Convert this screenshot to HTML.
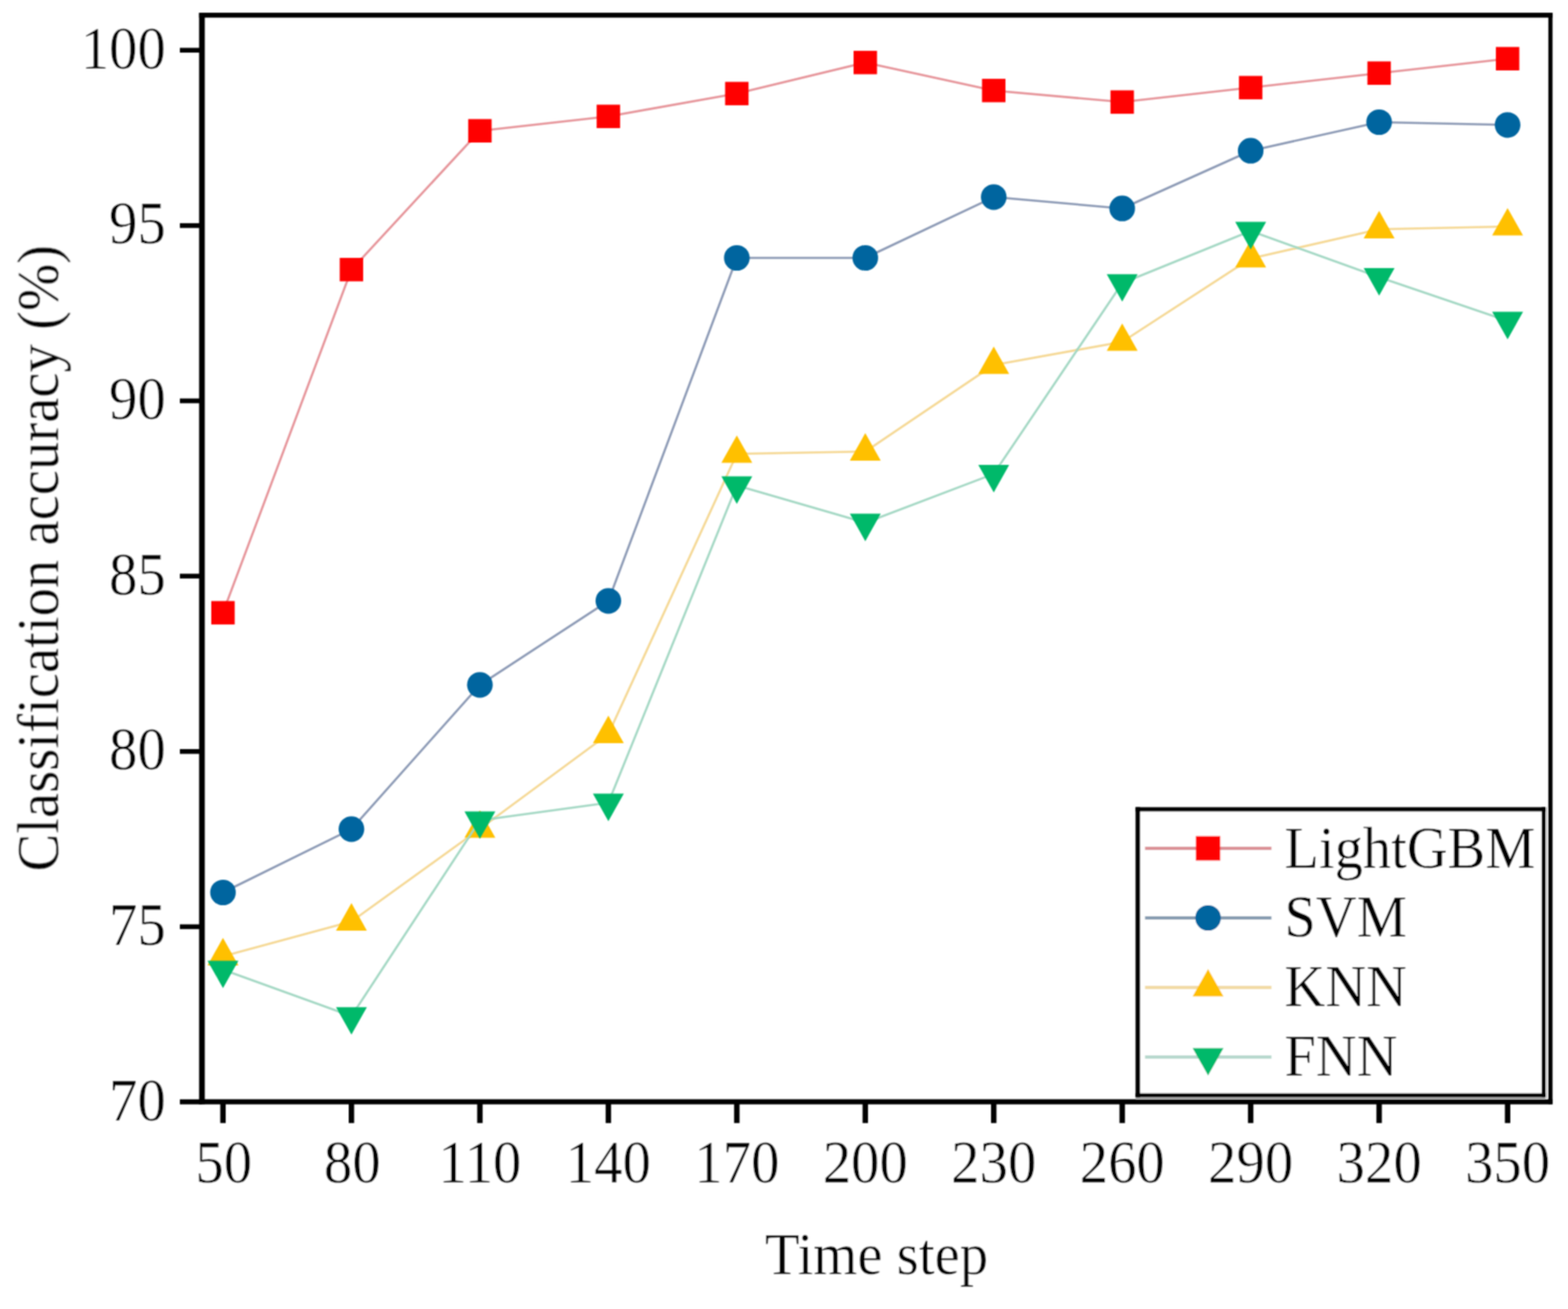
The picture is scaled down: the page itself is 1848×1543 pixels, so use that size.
<!DOCTYPE html>
<html lang="en"><head><meta charset="utf-8"><title>Classification accuracy</title>
<style>
html,body{margin:0;padding:0;background:#fff;}
body{width:1848px;height:1543px;overflow:hidden;}
svg{display:block;}
text{font-family:"Liberation Serif","DejaVu Serif",serif;fill:#000;stroke:#fff;stroke-width:0.45px;stroke-linejoin:round;}
</style></head><body>
<svg width="1848" height="1543" viewBox="0 0 1848 1543">
<defs><filter id="tsoft" x="-2%" y="-2%" width="104%" height="104%"><feConvolveMatrix order="3" kernelMatrix="1 2 1 2 4 2 1 2 1" divisor="16" edgeMode="none" preserveAlpha="false"/></filter></defs>
<rect width="1848" height="1543" fill="#fff"/>
<g id="series">
<polyline points="262.8,722.3 414.2,317.8 565.6,154.2 717.0,137.2 868.4,110.3 1019.8,73.7 1171.2,106.7 1322.6,120.3 1474.0,103.3 1625.4,86.2 1776.8,69.2" fill="none" stroke="#e6949a" stroke-width="2.6" stroke-linejoin="round" filter="url(#tsoft)"/>
<g filter="url(#tsoft)">
<rect x="249.0" y="708.5" width="27.6" height="27.6" fill="#ff0000"/>
<rect x="400.4" y="304.0" width="27.6" height="27.6" fill="#ff0000"/>
<rect x="551.8" y="140.4" width="27.6" height="27.6" fill="#ff0000"/>
<rect x="703.2" y="123.4" width="27.6" height="27.6" fill="#ff0000"/>
<rect x="854.6" y="96.5" width="27.6" height="27.6" fill="#ff0000"/>
<rect x="1006.0" y="59.9" width="27.6" height="27.6" fill="#ff0000"/>
<rect x="1157.4" y="92.9" width="27.6" height="27.6" fill="#ff0000"/>
<rect x="1308.8" y="106.5" width="27.6" height="27.6" fill="#ff0000"/>
<rect x="1460.2" y="89.5" width="27.6" height="27.6" fill="#ff0000"/>
<rect x="1611.6" y="72.4" width="27.6" height="27.6" fill="#ff0000"/>
<rect x="1763.0" y="55.4" width="27.6" height="27.6" fill="#ff0000"/>
</g>
<polyline points="262.8,1052.0 414.2,977.3 565.6,807.3 717.0,708.3 868.4,304.0 1019.8,304.0 1171.2,232.3 1322.6,245.7 1474.0,177.7 1625.4,144.0 1776.8,147.3" fill="none" stroke="#8c9ab5" stroke-width="2.6" stroke-linejoin="round" filter="url(#tsoft)"/>
<g filter="url(#tsoft)">
<circle cx="262.8" cy="1052.0" r="15.1" fill="#06659f"/>
<circle cx="414.2" cy="977.3" r="15.1" fill="#06659f"/>
<circle cx="565.6" cy="807.3" r="15.1" fill="#06659f"/>
<circle cx="717.0" cy="708.3" r="15.1" fill="#06659f"/>
<circle cx="868.4" cy="304.0" r="15.1" fill="#06659f"/>
<circle cx="1019.8" cy="304.0" r="15.1" fill="#06659f"/>
<circle cx="1171.2" cy="232.3" r="15.1" fill="#06659f"/>
<circle cx="1322.6" cy="245.7" r="15.1" fill="#06659f"/>
<circle cx="1474.0" cy="177.7" r="15.1" fill="#06659f"/>
<circle cx="1625.4" cy="144.0" r="15.1" fill="#06659f"/>
<circle cx="1776.8" cy="147.3" r="15.1" fill="#06659f"/>
</g>
<polyline points="262.8,1127.3 414.2,1086.3 565.6,977.0 717.0,865.3 868.4,535.0 1019.8,532.3 1171.2,430.2 1322.6,403.0 1474.0,304.7 1625.4,270.3 1776.8,267.0" fill="none" stroke="#f5d894" stroke-width="2.6" stroke-linejoin="round" filter="url(#tsoft)"/>
<g filter="url(#tsoft)">
<path d="M262.8 1105.5L281.0 1137.9L244.6 1137.9Z" fill="#ffc000"/>
<path d="M414.2 1064.5L432.4 1096.9L396.0 1096.9Z" fill="#ffc000"/>
<path d="M565.6 955.2L583.8 987.6L547.4 987.6Z" fill="#ffc000"/>
<path d="M717.0 843.5L735.2 875.9L698.8 875.9Z" fill="#ffc000"/>
<path d="M868.4 513.2L886.6 545.6L850.2 545.6Z" fill="#ffc000"/>
<path d="M1019.8 510.5L1038.0 542.9L1001.6 542.9Z" fill="#ffc000"/>
<path d="M1171.2 408.4L1189.4 440.8L1153.0 440.8Z" fill="#ffc000"/>
<path d="M1322.6 381.2L1340.8 413.6L1304.4 413.6Z" fill="#ffc000"/>
<path d="M1474.0 282.9L1492.2 315.3L1455.8 315.3Z" fill="#ffc000"/>
<path d="M1625.4 248.5L1643.6 280.9L1607.2 280.9Z" fill="#ffc000"/>
<path d="M1776.8 245.2L1795.0 277.6L1758.6 277.6Z" fill="#ffc000"/>
</g>
<polyline points="262.8,1143.0 414.2,1197.8 565.6,967.0 717.0,946.2 868.4,572.2 1019.8,616.2 1171.2,558.6 1322.6,333.8 1474.0,272.2 1625.4,326.7 1776.8,378.2" fill="none" stroke="#a4d8c4" stroke-width="2.6" stroke-linejoin="round" filter="url(#tsoft)"/>
<g filter="url(#tsoft)">
<path d="M262.8 1164.8L281.0 1132.4L244.6 1132.4Z" fill="#00b96b"/>
<path d="M414.2 1219.6L432.4 1187.2L396.0 1187.2Z" fill="#00b96b"/>
<path d="M565.6 988.8L583.8 956.4L547.4 956.4Z" fill="#00b96b"/>
<path d="M717.0 968.0L735.2 935.6L698.8 935.6Z" fill="#00b96b"/>
<path d="M868.4 594.0L886.6 561.6L850.2 561.6Z" fill="#00b96b"/>
<path d="M1019.8 638.0L1038.0 605.6L1001.6 605.6Z" fill="#00b96b"/>
<path d="M1171.2 580.4L1189.4 548.0L1153.0 548.0Z" fill="#00b96b"/>
<path d="M1322.6 355.6L1340.8 323.2L1304.4 323.2Z" fill="#00b96b"/>
<path d="M1474.0 294.0L1492.2 261.6L1455.8 261.6Z" fill="#00b96b"/>
<path d="M1625.4 348.5L1643.6 316.1L1607.2 316.1Z" fill="#00b96b"/>
<path d="M1776.8 400.0L1795.0 367.6L1758.6 367.6Z" fill="#00b96b"/>
</g>
</g>
<g filter="url(#tsoft)">
<g id="axes" stroke="#000" fill="none">
<line x1="238.0" y1="15.3" x2="238.0" y2="1301.4" stroke-width="6.7"/>
<line x1="234.7" y1="17.9" x2="1829.7" y2="17.9" stroke-width="5.8"/>
<line x1="234.7" y1="1298.8" x2="1829.7" y2="1298.8" stroke-width="5.9"/>
<line x1="1827.3" y1="15.3" x2="1827.3" y2="1301.4" stroke-width="4.9"/>
<line x1="212.0" y1="59.2" x2="238.0" y2="59.2" stroke-width="5.6"/>
<line x1="212.0" y1="265.9" x2="238.0" y2="265.9" stroke-width="5.6"/>
<line x1="212.0" y1="472.5" x2="238.0" y2="472.5" stroke-width="5.6"/>
<line x1="212.0" y1="679.1" x2="238.0" y2="679.1" stroke-width="5.6"/>
<line x1="212.0" y1="885.8" x2="238.0" y2="885.8" stroke-width="5.6"/>
<line x1="212.0" y1="1092.4" x2="238.0" y2="1092.4" stroke-width="5.6"/>
<line x1="212.0" y1="1298.8" x2="238.0" y2="1298.8" stroke-width="5.9"/>
<line x1="262.8" y1="1298.8" x2="262.8" y2="1323.8" stroke-width="6.4"/>
<line x1="414.2" y1="1298.8" x2="414.2" y2="1323.8" stroke-width="6.4"/>
<line x1="565.6" y1="1298.8" x2="565.6" y2="1323.8" stroke-width="6.4"/>
<line x1="717.0" y1="1298.8" x2="717.0" y2="1323.8" stroke-width="6.4"/>
<line x1="868.4" y1="1298.8" x2="868.4" y2="1323.8" stroke-width="6.4"/>
<line x1="1019.8" y1="1298.8" x2="1019.8" y2="1323.8" stroke-width="6.4"/>
<line x1="1171.2" y1="1298.8" x2="1171.2" y2="1323.8" stroke-width="6.4"/>
<line x1="1322.6" y1="1298.8" x2="1322.6" y2="1323.8" stroke-width="6.4"/>
<line x1="1474.0" y1="1298.8" x2="1474.0" y2="1323.8" stroke-width="6.4"/>
<line x1="1625.4" y1="1298.8" x2="1625.4" y2="1323.8" stroke-width="6.4"/>
<line x1="1776.8" y1="1298.8" x2="1776.8" y2="1323.8" stroke-width="6.4"/>
</g>
</g>
<g id="labels" filter="url(#tsoft)">
<g id="ylabels">
<text transform="translate(195.5 80.8) scale(0.942 1)" text-anchor="end" font-size="71">100</text>
<text transform="translate(195.5 287.4) scale(0.942 1)" text-anchor="end" font-size="71">95</text>
<text transform="translate(195.5 494.0) scale(0.942 1)" text-anchor="end" font-size="71">90</text>
<text transform="translate(195.5 700.6) scale(0.942 1)" text-anchor="end" font-size="71">85</text>
<text transform="translate(195.5 907.2) scale(0.942 1)" text-anchor="end" font-size="71">80</text>
<text transform="translate(195.5 1113.9) scale(0.942 1)" text-anchor="end" font-size="71">75</text>
<text transform="translate(195.5 1320.5) scale(0.942 1)" text-anchor="end" font-size="71">70</text>
</g>
<g id="xlabels">
<text transform="translate(263.8 1393.9) scale(0.942 1)" text-anchor="middle" font-size="71">50</text>
<text transform="translate(415.2 1393.9) scale(0.942 1)" text-anchor="middle" font-size="71">80</text>
<text transform="translate(565.6 1393.9) scale(0.942 1)" text-anchor="middle" font-size="71">110</text>
<text transform="translate(717.0 1393.9) scale(0.942 1)" text-anchor="middle" font-size="71">140</text>
<text transform="translate(868.4 1393.9) scale(0.942 1)" text-anchor="middle" font-size="71">170</text>
<text transform="translate(1019.8 1393.9) scale(0.942 1)" text-anchor="middle" font-size="71">200</text>
<text transform="translate(1171.2 1393.9) scale(0.942 1)" text-anchor="middle" font-size="71">230</text>
<text transform="translate(1322.6 1393.9) scale(0.942 1)" text-anchor="middle" font-size="71">260</text>
<text transform="translate(1474.0 1393.9) scale(0.942 1)" text-anchor="middle" font-size="71">290</text>
<text transform="translate(1625.4 1393.9) scale(0.942 1)" text-anchor="middle" font-size="71">320</text>
<text transform="translate(1776.8 1393.9) scale(0.942 1)" text-anchor="middle" font-size="71">350</text>
</g>
<text transform="translate(1033.0 1502.0) scale(0.955 1)" text-anchor="middle" font-size="70">Time step</text>
<text transform="translate(68.5 658.0) rotate(-90) scale(0.955 1)" text-anchor="middle" font-size="70">Classification accuracy (%)</text>
</g>
<g id="legend">
<g filter="url(#tsoft)">
<rect x="1341.0" y="954.0" width="478.2" height="337.0" fill="#fff"/>
<line x1="1338.4" y1="1294.7" x2="1821.3" y2="1294.7" stroke="#9a9a9a" stroke-width="2.4"/>
<line x1="1822.9" y1="951.5" x2="1822.9" y2="1295.5" stroke="#cfcfcf" stroke-width="2.1"/>
<line x1="1341.0" y1="951.5" x2="1341.0" y2="1293.5" stroke="#000" stroke-width="5.3"/>
<line x1="1338.4" y1="954.0" x2="1821.5" y2="954.0" stroke="#000" stroke-width="5.1"/>
<line x1="1819.2" y1="951.5" x2="1819.2" y2="1293.3" stroke="#000" stroke-width="4.6"/>
<line x1="1338.4" y1="1291.0" x2="1821.5" y2="1291.0" stroke="#000" stroke-width="4.6"/>
<line x1="1349.5" y1="1000.0" x2="1498.5" y2="1000.0" stroke="#db9398" stroke-width="4.2"/>
<rect x="1409.4" y="985.6" width="28.8" height="28.8" fill="#ff0000"/>
<line x1="1349.5" y1="1082.0" x2="1498.5" y2="1082.0" stroke="#889db2" stroke-width="4.2"/>
<circle cx="1423.8" cy="1082.0" r="15.1" fill="#06659f"/>
<line x1="1349.5" y1="1164.0" x2="1498.5" y2="1164.0" stroke="#f2dba6" stroke-width="4.2"/>
<path d="M1423.8 1142.2L1442.0 1174.6L1405.6 1174.6Z" fill="#ffc000"/>
<line x1="1349.5" y1="1246.0" x2="1498.5" y2="1246.0" stroke="#b8d9ce" stroke-width="4.2"/>
<path d="M1423.8 1267.8L1442.0 1235.4L1405.6 1235.4Z" fill="#00b96b"/>
</g>
<g filter="url(#tsoft)">
<text transform="translate(1513.8 1022.5) scale(0.965 1)" text-anchor="start" font-size="69">LightGBM</text>
<text transform="translate(1513.8 1103.5) scale(0.965 1)" text-anchor="start" font-size="69">SVM</text>
<text transform="translate(1513.8 1186.3) scale(0.965 1)" text-anchor="start" font-size="69">KNN</text>
<text transform="translate(1513.8 1267.5) scale(0.965 1)" text-anchor="start" font-size="69">FNN</text>
</g>
</g>
</svg>
</body></html>
